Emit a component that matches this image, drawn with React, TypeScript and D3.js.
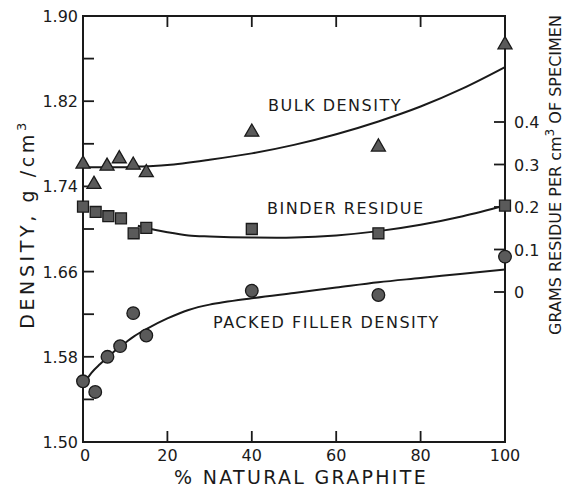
import React from "react";
import * as d3 from "d3";

// Measured points (% natural graphite vs density g/cm3)
const bulkX = [0, 2.6, 5.7, 8.6, 11.9, 15, 40, 70, 100];
const bulkY = [1.761, 1.742, 1.759, 1.766, 1.76, 1.753, 1.791, 1.777, 1.873];

const binderX = [0, 3, 6, 9, 12, 15, 40, 70, 100];
const binderY = [1.721, 1.716, 1.712, 1.71, 1.696, 1.701, 1.7, 1.696, 1.722];

const fillerX = [0, 2.9, 5.8, 8.8, 11.9, 15, 40, 70, 100];
const fillerY = [1.557, 1.547, 1.58, 1.59, 1.621, 1.6, 1.642, 1.638, 1.674];

// Fitted curves
const bulkCurveX = [0, 5, 10, 15, 20, 30, 40, 50, 60, 70, 80, 90, 100];
const bulkCurveY = [1.758, 1.758, 1.758, 1.759, 1.76, 1.765, 1.771, 1.779, 1.789, 1.801, 1.815, 1.832, 1.852];

const binderCurveX = [13, 15, 20, 25, 30, 40, 50, 60, 70, 80, 90, 100];
const binderCurveY = [1.703, 1.701, 1.697, 1.694, 1.693, 1.692, 1.692, 1.694, 1.698, 1.704, 1.712, 1.722];

const fillerCurveX = [0, 2, 4, 6, 8, 10, 12, 15, 20, 25, 30, 40, 50, 60, 70, 80, 90, 100];
const fillerCurveY = [1.553, 1.565, 1.573, 1.58, 1.587, 1.593, 1.599, 1.606, 1.616, 1.624, 1.629, 1.635, 1.64, 1.645, 1.65, 1.654, 1.658, 1.662];

// Axis ticks
const xTicks = [0, 20, 40, 60, 80, 100];
const yTickLabels = ["1.50", "1.58", "1.66", "1.74", "1.82", "1.90"];
const yMinorTicks = [1.54, 1.62, 1.7, 1.78, 1.86];
const rightTicks = [0, 0.1, 0.2, 0.3, 0.4];
const rightTickLabels = ["0", "0.1", "0.2", "0.3", "0.4"];

const FONT = "'DejaVu Sans', sans-serif";
const INK = "#1a1a1a";
const MARK = "#5a5a5a";

export default function App() {
  const W = 574, H = 487;
  const x = d3.scaleLinear().domain([0, 100]).range([83, 505]);
  const y = d3.scaleLinear().domain([1.5, 1.9]).range([442, 16]);
  const yR = d3.scaleLinear().domain([0, 0.4]).range([292, 122]);

  const line = d3
    .line<[number, number]>()
    .x((d) => x(d[0]))
    .y((d) => y(d[1]))
    .curve(d3.curveCatmullRom.alpha(0.5));

  const zip = (a: number[], b: number[]) => a.map((v, i) => [v, b[i]] as [number, number]);

  const tri = d3.symbol().type(d3.symbolTriangle).size(85)() as string;
  const sq = d3.symbol().type(d3.symbolSquare).size(120)() as string;
  const circ = d3.symbol().type(d3.symbolCircle).size(125)() as string;

  const x0 = x(0), x1 = x(100), yT = y(1.9), yB = y(1.5);
  const tick = 11;

  return (
    <svg width={W} height={H} style={{ position: "absolute", left: 0, top: 0, background: "#fff" }}>
      {/* frame */}
      <rect x={x0} y={yT} width={x1 - x0} height={yB - yT} fill="none" stroke={INK} strokeWidth={2} />

      {/* bottom & top ticks */}
      {xTicks.slice(1, -1).map((t) => (
        <g key={"xt" + t}>
          <line x1={x(t)} x2={x(t)} y1={yB} y2={yB - tick} stroke={INK} strokeWidth={1.8} />
          <line x1={x(t)} x2={x(t)} y1={yT} y2={yT + tick} stroke={INK} strokeWidth={1.8} />
        </g>
      ))}
      {xTicks.map((t) => (
        <text key={"xl" + t} x={x(t) + (t === 0 ? 2 : 0)} y={461} textAnchor="middle" fontFamily={FONT} fontSize={16} fill={INK}>
          {t}
        </text>
      ))}

      {/* left ticks */}
      {yTickLabels.map((s) => (
        <g key={"yl" + s}>
          {s !== "1.50" && s !== "1.90" && (
            <line x1={x0} x2={x0 + tick} y1={y(+s)} y2={y(+s)} stroke={INK} strokeWidth={1.8} />
          )}
          <text x={78} y={y(+s) + 6} textAnchor="end" fontFamily={FONT} fontSize={16} fill={INK}>
            {s}
          </text>
        </g>
      ))}
      {yMinorTicks.map((t) => (
        <line key={"ym" + t} x1={x0} x2={x0 + tick} y1={y(t)} y2={y(t)} stroke={INK} strokeWidth={1.8} />
      ))}

      {/* right ticks */}
      {rightTicks.map((t, i) => (
        <g key={"r" + t}>
          <line x1={x1} x2={x1 - tick} y1={yR(t)} y2={yR(t)} stroke={INK} strokeWidth={1.8} />
          <text x={514} y={yR(t) + 6} textAnchor="start" fontFamily={FONT} fontSize={16} fill={INK}>
            {rightTickLabels[i]}
          </text>
        </g>
      ))}

      {/* curves */}
      <path d={line(zip(bulkCurveX, bulkCurveY)) || ""} fill="none" stroke={INK} strokeWidth={2} />
      <path d={line(zip(binderCurveX, binderCurveY)) || ""} fill="none" stroke={INK} strokeWidth={2} />
      <path d={line(zip(fillerCurveX, fillerCurveY)) || ""} fill="none" stroke={INK} strokeWidth={2} />

      {/* markers */}
      {bulkX.map((v, i) => (
        <path key={"bt" + i} d={tri} transform={`translate(${x(v)},${y(bulkY[i])})`} fill={MARK} stroke={INK} strokeWidth={1.3} />
      ))}
      {binderX.map((v, i) => (
        <path key={"bs" + i} d={sq} transform={`translate(${x(v)},${y(binderY[i])})`} fill={MARK} stroke={INK} strokeWidth={1.3} />
      ))}
      {fillerX.map((v, i) => (
        <path key={"fc" + i} d={circ} transform={`translate(${x(v)},${y(fillerY[i])})`} fill={MARK} stroke={INK} strokeWidth={1.3} />
      ))}

      {/* annotations */}
      <text x={268} y={111} fontFamily={FONT} fontSize={16} letterSpacing={1.5} fill={INK}>BULK DENSITY</text>
      <text x={267} y={214} fontFamily={FONT} fontSize={16} letterSpacing={1.5} fill={INK}>BINDER RESIDUE</text>
      <text x={213} y={328} fontFamily={FONT} fontSize={16} letterSpacing={1.5} fill={INK}>PACKED FILLER DENSITY</text>

      {/* axis titles */}
      <text x={301} y={484} textAnchor="middle" fontFamily={FONT} fontSize={19} letterSpacing={2.3} fill={INK}>
        % NATURAL GRAPHITE
      </text>
      <text transform="translate(34,224) rotate(-90)" textAnchor="middle" fontFamily={FONT} fontSize={19} letterSpacing={3.6} fill={INK}>
        DENSITY, g /cm<tspan dy={-8} fontSize={13}>3</tspan>
      </text>
      <text transform="translate(561,175) rotate(-90)" textAnchor="middle" fontFamily={FONT} fontSize={16} letterSpacing={0} fill={INK}>
        GRAMS RESIDUE PER cm<tspan dy={-7} fontSize={12}>3</tspan><tspan dy={7}> OF SPECIMEN</tspan>
      </text>
    </svg>
  );
}
